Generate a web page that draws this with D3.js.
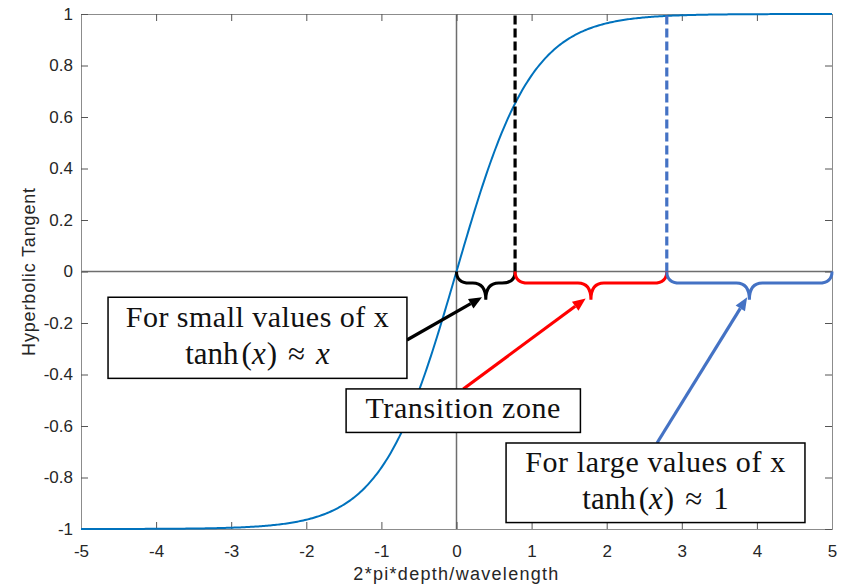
<!DOCTYPE html>
<html><head><meta charset="utf-8">
<script src="https://cdn.jsdelivr.net/npm/d3@7"></script>
<style>body{margin:0;background:#fff}</style>
</head><body>
<svg id="chart" width="845" height="584"></svg>
<script>
// ---- data ----
const xDomain = [-5, 5];
const yDomain = [-1, 1];
const xTicks = [-5, -4, -3, -2, -1, 0, 1, 2, 3, 4, 5];
const yTicks = [-1, -0.8, -0.6, -0.4, -0.2, 0, 0.2, 0.4, 0.6, 0.8, 1];
const curveX = d3.range(-5, 5.0001, 0.02);
const curveY = curveX.map(Math.tanh);
const dashedX = [0.78, 2.8];                 // black, blue dashed verticals
const braceStart = [0, 0.78, 2.8];
const braceEnd = [0.78, 2.8, 5];
const braceColors = ["#000000", "#ff0000", "#4472c4"];
const arrowFrom = [[-0.66, -0.266], [0.09, -0.456], [2.67, -0.666]];
const arrowTo = [[0.34, -0.1], [1.72, -0.105], [3.87, -0.1]];
const boxX = [[-4.64, -0.66], [-1.47, 1.65], [0.66, 4.64]];
const boxY = [[-0.1, -0.415], [-0.456, -0.625], [-0.666, -0.975]];
const boxLines = [["For small values of x", "tanh(x) ≈ x"], ["Transition zone"], ["For large values of x", "tanh(x) ≈ 1"]];
const xLabel = "2*pi*depth/wavelength";
const yLabel = "Hyperbolic Tangent";

// ---- layout ----
const svg = d3.select("#chart");
const L = 81, R = 832, T = 14, B = 529;
const x = d3.scaleLinear().domain(xDomain).range([L, R]);
const y = d3.scaleLinear().domain(yDomain).range([B, T]);
const axisCol = "#8c8c8c", textCol = "#262626";
const sans = "Liberation Sans, Arial, Helvetica, sans-serif";
const serif = "Liberation Serif, Times New Roman, serif";

// fit a text element's width by adjusting letter spacing
function fitWidth(t, target) {
  const n = t.node();
  const w = n.getComputedTextLength();
  const chars = n.textContent.length;
  if (chars > 1) t.style("letter-spacing", ((target - w) / (chars - 1)) + "px");
}

// zero lines
svg.append("line").attr("x1", x(0)).attr("x2", x(0)).attr("y1", T).attr("y2", B)
  .attr("stroke", "#6e6e6e").attr("stroke-width", 1.5);
svg.append("line").attr("x1", L).attr("x2", R).attr("y1", y(0)).attr("y2", y(0))
  .attr("stroke", "#6e6e6e").attr("stroke-width", 1.5);

// axes (box with inward ticks)
function styleAxis(g) {
  g.selectAll(".domain").attr("stroke", axisCol).attr("stroke-width", 1);
  g.selectAll(".tick line").attr("stroke", "#555");
  g.selectAll("text").attr("fill", textCol).style("font-family", sans).style("font-size", "17px");
}
const fmt = d => String(+d.toFixed(1));
svg.append("g").attr("transform", `translate(0,${B})`)
  .call(d3.axisBottom(x).tickValues(xTicks).tickSize(-7).tickPadding(16).tickFormat(fmt)).call(styleAxis);
svg.append("g").attr("transform", `translate(0,${T})`)
  .call(d3.axisTop(x).tickValues(xTicks).tickSize(-7).tickFormat("")).call(styleAxis);
svg.append("g").attr("transform", `translate(${L},0)`)
  .call(d3.axisLeft(y).tickValues(yTicks).tickSize(-7).tickPadding(8).tickFormat(fmt)).call(styleAxis);
svg.append("g").attr("transform", `translate(${R},0)`)
  .call(d3.axisRight(y).tickValues(yTicks).tickSize(-7).tickFormat("")).call(styleAxis);

// curve
svg.append("path").datum(curveX.map((v, i) => [v, curveY[i]]))
  .attr("d", d3.line().x(d => x(d[0])).y(d => y(d[1])))
  .attr("fill", "none").attr("stroke", "#0072bd").attr("stroke-width", 2);

// dashed verticals
svg.selectAll(".dv").data(dashedX).join("line")
  .attr("x1", d => x(d)).attr("x2", d => x(d)).attr("y1", y(0)).attr("y2", y(1))
  .attr("stroke", (d, i) => i === 0 ? "#000" : "#4472c4")
  .attr("stroke-width", 3.2).attr("stroke-dasharray", "9,4");

// braces
const yh = y(-0.045), ytip = y(-0.11), y0 = y(0);
braceStart.forEach((s, i) => {
  const x0 = x(s), x1 = x(braceEnd[i]), xm = (x0 + x1) / 2;
  const r = Math.min(13, (x1 - x0) / 4);
  const p = d3.path();
  p.moveTo(x0, y0);
  p.quadraticCurveTo(x0, yh, x0 + r, yh);
  p.lineTo(xm - r, yh);
  p.quadraticCurveTo(xm, yh, xm, ytip);
  p.quadraticCurveTo(xm, yh, xm + r, yh);
  p.lineTo(x1 - r, yh);
  p.quadraticCurveTo(x1, yh, x1, y0);
  svg.append("path").attr("d", p.toString()).attr("fill", "none")
    .attr("stroke", braceColors[i]).attr("stroke-width", 3);
});

// arrows
arrowFrom.forEach((f, i) => {
  const x0 = x(f[0]), y0a = y(f[1]), x1 = x(arrowTo[i][0]), y1 = y(arrowTo[i][1]);
  const ang = Math.atan2(y1 - y0a, x1 - x0);
  const hl = 13, hw = 5.5;
  const bx = x1 - hl * Math.cos(ang), by = y1 - hl * Math.sin(ang);
  svg.append("line").attr("x1", x0).attr("y1", y0a).attr("x2", bx).attr("y2", by)
    .attr("stroke", braceColors[i]).attr("stroke-width", 3.2);
  const nx = -Math.sin(ang), ny = Math.cos(ang);
  svg.append("path")
    .attr("d", `M${x1},${y1}L${bx + nx * hw},${by + ny * hw}L${bx - nx * hw},${by - ny * hw}Z`)
    .attr("fill", braceColors[i]);
});

// text boxes
const lineWidths = [[263, null], [195], [260, null]];
boxX.forEach((bx, i) => {
  const xa = x(bx[0]), xb = x(bx[1]), ya = y(boxY[i][0]), yb = y(boxY[i][1]);
  svg.append("rect").attr("x", xa).attr("y", ya).attr("width", xb - xa).attr("height", yb - ya)
    .attr("fill", "#fff").attr("stroke", "#000").attr("stroke-width", 1.5);
  const lines = boxLines[i];
  const lh = 37;
  const cy = (ya + yb) / 2;
  lines.forEach((ln, j) => {
    const t = svg.append("text").attr("x", (xa + xb) / 2)
      .attr("y", cy + (j - (lines.length - 1) / 2) * lh + (lines.length > 1 ? 8 : 7))
      .attr("text-anchor", "middle").attr("fill", "#111")
      .style("font-family", serif).style("font-size", "30px");
    if (ln.startsWith("tanh")) {
      const last = ln.slice(-1);
      t.style("font-size", "31px");
      t.append("tspan").text("tanh");
      t.append("tspan").attr("dx", 3).text("(");
      t.append("tspan").text("x").style("font-style", "italic");
      t.append("tspan").attr("dx", 1).text(")");
      t.append("tspan").attr("dx", 11).text("≈");
      t.append("tspan").attr("dx", 11).text(last).style("font-style", last === "x" ? "italic" : "normal");
    } else {
      t.text(ln);
      fitWidth(t, lineWidths[i][j]);
    }
  });
});

// axis labels
const xl = svg.append("text").attr("x", (L + R) / 2).attr("y", 580).attr("text-anchor", "middle")
  .attr("fill", textCol).style("font-family", sans).style("font-size", "18px")
  .text(xLabel);
fitWidth(xl, 205);
const yl = svg.append("text").attr("transform", `translate(35,${(T + B) / 2}) rotate(-90)`).attr("text-anchor", "middle")
  .attr("fill", textCol).style("font-family", sans).style("font-size", "18px")
  .text(yLabel);
fitWidth(yl, 168);
</script>
</body></html>
